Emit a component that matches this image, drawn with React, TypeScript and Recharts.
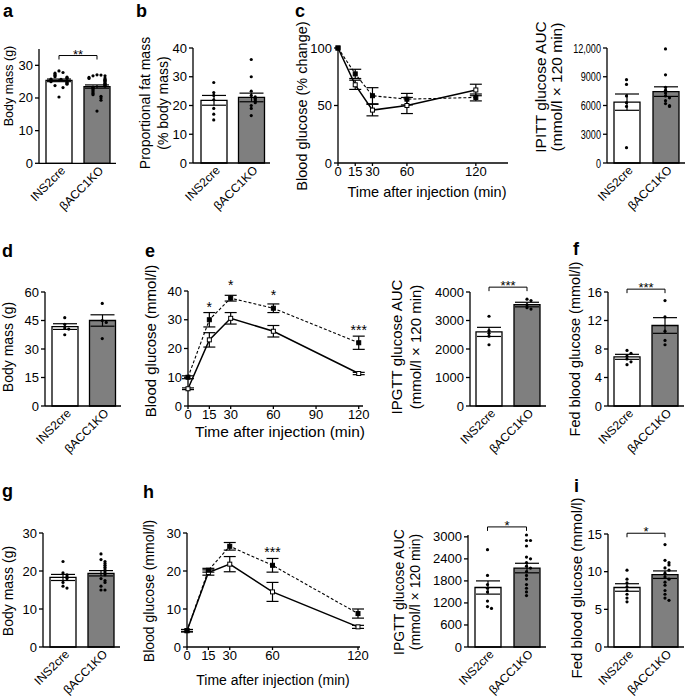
import React from "react";
import {
	Bar,
	Cell,
	ComposedChart,
	ErrorBar,
	LabelList,
	Line,
	ReferenceLine,
	Scatter,
	XAxis,
	YAxis,
} from "recharts";

const FONT = "'Liberation Sans', Arial, Helvetica, sans-serif";
const groups = ["INS2cre", "βACC1KO"];

// a: body mass
const aMean = [25.4, 23.5];
const aSem = [0.4, 0.5];
const aWt = [28.3, 27.8, 27.6, 27.1, 26.9, 26.5, 26.4, 26.2, 26.0, 25.8, 25.7, 25.5, 25.3, 25.0, 24.8, 24.5, 24.2, 23.8, 23.2, 20.3];
const aKo = [27.1, 27.0, 26.8, 26.8, 26.3, 26.1, 26.0, 25.7, 25.4, 25.2, 25.0, 24.6, 24.4, 24.2, 23.9, 23.6, 23.3, 23.0, 22.6, 22.2, 21.8, 21.4, 21.0, 20.5, 20.0, 19.3, 16.0];

// b: proportional fat mass
const bMean = [21.8, 22.8];
const bSem = [1.7, 1.5];
const bWt = [28, 24.5, 23.5, 22, 19, 17, 15];
const bKo = [36, 30, 25, 23.5, 23, 22.5, 22, 21.5, 21, 20, 19, 16.5];

// c: ITT time course (% change)
const cTimes = [0, 15, 30, 60, 120];
const cWt = [100, 68, 46, 50, 63.5];
const cWtErr = [0, 4, 5, 7, 5];
const cKo = [100, 77.5, 58.5, 55.5, 57];
const cKoErr = [0, 4, 7, 5, 3];

// c: IPITT AUC
const cAucMean = [6350, 7450];
const cAucSem = [850, 500];
const cAucWt = [8700, 8200, 7000, 6300, 5900, 1600];
const cAucKo = [11900, 9200, 7900, 7600, 7300, 7000, 6800, 6500, 6200, 6000, 5900];

// d: body mass
const dMean = [41.8, 45];
const dSem = [1.5, 3];
const dWt = [46.5, 43, 41, 40.5, 37.5];
const dKo = [54, 45, 44, 35.5];

// e: IPGTT time course
const eTimes = [0, 15, 30, 60, 120];
const eWt = [6, 23, 30.5, 26, 11.3];
const eWtErr = [0.3, 2.5, 2, 2, 0.4];
const eKo = [10, 30, 37.5, 34, 22];
const eKoErr = [0.5, 2.5, 1, 1.5, 2.3];
const eStars = ["", "*", "*", "*", "***"];

// e: IPGTT AUC
const eAucMean = [2600, 3560];
const eAucSem = [160, 80];
const eAucWt = [3150, 2650, 2550, 2450, 2150];
const eAucKo = [3750, 3700, 3550, 3450, 3400];

// f: fed blood glucose
const fMean = [6.9, 11.3];
const fSem = [0.35, 1.1];
const fWt = [7.8, 7.4, 7.0, 6.6, 6.2, 5.8];
const fKo = [14.8, 12.5, 10.5, 9.2, 8.6];

// g: body mass
const gMean = [18.3, 19.4];
const gSem = [0.8, 0.7];
const gWt = [22.5, 19.5, 19, 18.5, 18, 17, 16, 15.5];
const gKo = [24.5, 23, 22.5, 22, 21.5, 21, 20.5, 20, 19.5, 19, 18, 17.5, 17, 16, 15, 15];

// h: IPGTT time course
const hTimes = [0, 15, 30, 60, 120];
const hWt = [4.3, 19.6, 21.8, 14.5, 5.3];
const hWtErr = [0.3, 0.7, 2, 2.5, 0.4];
const hKo = [4.3, 20.2, 26.5, 21.5, 8.8];
const hKoErr = [0.3, 0.5, 1, 1.8, 1.2];
const hStars = ["", "", "", "***", ""];

// h: IPGTT AUC
const hAucMean = [1620, 2150];
const hAucSem = [180, 130];
const hAucWt = [2650, 1950, 1700, 1600, 1500, 1250, 1100, 1050];
const hAucKo = [3050, 2900, 2900, 2750, 2450, 2400, 2300, 2200, 2150, 2050, 1950, 1850, 1700, 1600, 1500, 1400];

// i: fed blood glucose
const iMean = [7.9, 9.6];
const iSem = [0.5, 0.5];
const iWt = [10.2, 9.0, 8.5, 8.0, 7.5, 7.0, 6.5, 6.0];
const iKo = [13.6, 11.5, 11.2, 10.9, 10.5, 10.2, 9.8, 9.3, 9.0, 8.6, 8.2, 7.5, 7.0, 6.5, 6.2];

const OFFSETS = [0, 4, -4, 8, -8, 2, -6, 6, -2, 10, -10];

// simple beeswarm: dots close in value get pushed sideways
function spread(values: number[], group: string, max: number) {
	const placed: { group: string; value: number; dx: number }[] = [];
	values.forEach((v) => {
		const k = placed.filter((q) => Math.abs(q.value - v) < max * 0.025).length;
		placed.push({ group, value: v, dx: OFFSETS[k % OFFSETS.length] });
	});
	return placed;
}

function CatTick({ x, y, payload }: any) {
	return (
		<text
			transform={`translate(${x + 7},${y + 8}) rotate(-45)`}
			textAnchor="end"
			fontSize={12}
			fontFamily={FONT}
			fill="#000"
		>
			{payload.value}
		</text>
	);
}

// y tick whose glyphs can be squeezed sideways (the AUC panel uses narrow digits)
function YTick({ x, y, payload, squeeze, size, fmt }: any) {
	const label = fmt ? fmt(payload.value) : String(payload.value);
	return (
		<text
			transform={`translate(${x},${y}) scale(${squeeze ?? 1},1)`}
			textAnchor="end"
			dominantBaseline="central"
			fontSize={size}
			fontFamily={FONT}
			fill="#000"
		>
			{label}
		</text>
	);
}

function DotShape(props: any) {
	const { cx, cy, payload } = props;
	if (cx == null || cy == null) return null;
	return <circle cx={cx + (payload?.dx ?? 0)} cy={cy} r={1.6} fill="#000" />;
}

function bracketShape(props: any) {
	const { x1, y1, x2, y2 } = props;
	return (
		<path
			d={`M${x1},${y1 + 4}L${x1},${y1}L${x2},${y2}L${x2},${y2 + 4}`}
			stroke="#000"
			strokeWidth={1}
			fill="none"
		/>
	);
}

interface BarPanelProps {
	axisX: number;
	padL: number;
	band: number;
	topY: number;
	baseY: number;
	max: number;
	ticks: number[];
	mean: number[];
	sem: number[];
	wt: number[];
	ko: number[];
	bracket?: { y: number; stars: string };
	tickFont?: number;
	squeeze?: number;
	fmt?: (v: number) => string;
}

function BarPanel(p: BarPanelProps) {
	const yw = 50;
	const left = p.axisX - yw;
	const top = p.topY - 30;
	const right = p.axisX + p.padL + 2 * p.band;
	const width = right - left + 6;
	const height = p.baseY - top + 70;
	const data = groups.map((g, i) => ({ group: g, mean: p.mean[i], sem: p.sem[i] }));
	const dots = [...spread(p.wt, groups[0], p.max), ...spread(p.ko, groups[1], p.max)];

	return (
		<div style={{ position: "absolute", left, top }}>
			<ComposedChart
				width={width}
				height={height}
				data={data}
				margin={{ top: 30, right: 6, bottom: 0, left: 0 }}
			>
				<XAxis
					dataKey="group"
					type="category"
					allowDuplicatedCategory={false}
					height={70}
					padding={{ left: p.padL, right: 0 }}
					tickLine={false}
					tickSize={0}
					tickMargin={0}
					interval={0}
					tick={<CatTick />}
					axisLine={{ stroke: "#000", strokeWidth: 1.3 }}
				/>
				<YAxis
					width={yw}
					domain={[0, p.max]}
					ticks={p.ticks}
					interval={0}
					tickSize={4}
					tickMargin={2}
					axisLine={{ stroke: "#000", strokeWidth: 1.3 }}
					tickLine={{ stroke: "#000", strokeWidth: 1.3 }}
					tick={<YTick size={p.tickFont ?? 13} squeeze={p.squeeze} fmt={p.fmt} />}
				/>
				<Bar dataKey="mean" barSize={26} stroke="#000" strokeWidth={1.3} isAnimationActive={false}>
					{data.map((d, i) => (
						<Cell key={d.group} fill={i === 0 ? "#ffffff" : "#7f7f7f"} />
					))}
					<ErrorBar dataKey="sem" width={12} stroke="#000" strokeWidth={1.2} direction="y" />
				</Bar>
				<Scatter data={dots} dataKey="value" shape={DotShape} isAnimationActive={false} />
				{p.bracket && (
					<ReferenceLine
						segment={[
							{ x: groups[0], y: p.bracket.y },
							{ x: groups[1], y: p.bracket.y },
						]}
						ifOverflow="visible"
						shape={bracketShape}
						label={{
							value: p.bracket.stars,
							position: "top",
							offset: -3,
							fontSize: 13,
							fill: "#000",
							fontFamily: FONT,
						}}
					/>
				)}
			</ComposedChart>
		</div>
	);
}

function openSquare(props: any) {
	const { cx, cy, index } = props;
	return <rect key={`o${index}`} x={cx - 2} y={cy - 2} width={4} height={4} fill="#fff" stroke="#000" strokeWidth={1} />;
}

function filledSquare(props: any) {
	const { cx, cy, index } = props;
	return <rect key={`f${index}`} x={cx - 2} y={cy - 2} width={4} height={4} fill="#000" stroke="#000" strokeWidth={1} />;
}

function StarLabel(props: any) {
	const { x, y, value } = props;
	if (!value) return null;
	return (
		<text x={x} y={y - 8} textAnchor="middle" fontSize={14} fontFamily={FONT} fill="#000">
			{value}
		</text>
	);
}

interface LinePanelProps {
	axisX: number;
	right: number;
	topY: number;
	baseY: number;
	xMax: number;
	xTicks: number[];
	yMax: number;
	yTicks: number[];
	times: number[];
	wt: number[];
	wtErr: number[];
	ko: number[];
	koErr: number[];
	stars?: string[];
}

function LinePanel(p: LinePanelProps) {
	const yw = 40;
	const left = p.axisX - yw;
	const top = p.topY - 25;
	const width = p.right - left + 10;
	const height = p.baseY - top + 22;
	const data = p.times.map((t, i) => ({
		t,
		wt: p.wt[i],
		wtErr: p.wtErr[i],
		ko: p.ko[i],
		koErr: p.koErr[i],
		star: p.stars ? p.stars[i] : "",
	}));

	return (
		<div style={{ position: "absolute", left, top }}>
			<ComposedChart
				width={width}
				height={height}
				data={data}
				margin={{ top: 25, right: 10, bottom: 0, left: 0 }}
			>
				<XAxis
					dataKey="t"
					type="number"
					domain={[0, p.xMax]}
					ticks={p.xTicks}
					interval={0}
					height={22}
					tickSize={3}
					tickMargin={1}
					axisLine={{ stroke: "#000", strokeWidth: 1.3 }}
					tickLine={{ stroke: "#000", strokeWidth: 1.3 }}
					tick={{ fill: "#000", fontSize: 13, fontFamily: FONT }}
				/>
				<YAxis
					width={yw}
					domain={[0, p.yMax]}
					ticks={p.yTicks}
					interval={0}
					tickSize={4}
					tickMargin={2}
					axisLine={{ stroke: "#000", strokeWidth: 1.3 }}
					tickLine={{ stroke: "#000", strokeWidth: 1.3 }}
					tick={{ fill: "#000", fontSize: 13, fontFamily: FONT }}
				/>
				<Line
					dataKey="wt"
					stroke="#000"
					strokeWidth={1.5}
					dot={openSquare}
					activeDot={false}
					isAnimationActive={false}
				>
					<ErrorBar dataKey="wtErr" width={6} stroke="#000" strokeWidth={1.2} direction="y" />
				</Line>
				<Line
					dataKey="ko"
					stroke="#000"
					strokeWidth={1.1}
					strokeDasharray="3 2"
					dot={filledSquare}
					activeDot={false}
					isAnimationActive={false}
				>
					<ErrorBar dataKey="koErr" width={6} stroke="#000" strokeWidth={1.2} direction="y" />
					<LabelList dataKey="star" content={StarLabel} />
				</Line>
			</ComposedChart>
		</div>
	);
}

const fmtAuc = (v: number) => (v >= 10000 ? v.toLocaleString("en-US") : String(v));

function YTitle({ x, y, size, children }: { x: number; y: number; size: number; children: React.ReactNode }) {
	return (
		<text
			transform={`translate(${x},${y}) rotate(-90)`}
			textAnchor="middle"
			dominantBaseline="central"
			fontSize={size}
			fontFamily={FONT}
			fill="#000"
		>
			{children}
		</text>
	);
}

function Letter({ x, y, children }: { x: number; y: number; children: React.ReactNode }) {
	return (
		<text x={x} y={y} fontSize={18} fontWeight="bold" fontFamily={FONT} fill="#000">
			{children}
		</text>
	);
}

export default function App() {
	return (
		<div
			style={{
				position: "absolute",
				left: 0,
				top: 0,
				width: 685,
				height: 698,
				background: "#fff",
				overflow: "hidden",
			}}
		>
			{/* row 1 */}
			<BarPanel axisX={39} padL={1} band={38} topY={48.7} baseY={163} max={35} ticks={[0, 10, 20, 30]}
				mean={aMean} sem={aSem} wt={aWt} ko={aKo} bracket={{ y: 33, stars: "**" }} />
			<BarPanel axisX={193} padL={2} band={37.5} topY={48} baseY={163} max={40} ticks={[0, 10, 20, 30, 40]}
				mean={bMean} sem={bSem} wt={bWt} ko={bKo} />
			<LinePanel axisX={338} right={508} topY={48} baseY={163} xMax={148} xTicks={[0, 15, 30, 60, 120]}
				yMax={100} yTicks={[0, 50, 100]} times={cTimes} wt={cWt} wtErr={cWtErr} ko={cKo} koErr={cKoErr} />
			<BarPanel axisX={607} padL={0} band={39} topY={48} baseY={163} max={12000} ticks={[0, 3000, 6000, 9000, 12000]}
				mean={cAucMean} sem={cAucSem} wt={cAucWt} ko={cAucKo} fmt={fmtAuc} tickFont={13} squeeze={0.7} />

			{/* row 2 */}
			<BarPanel axisX={45} padL={1} band={37.5} topY={292} baseY={406} max={60} ticks={[0, 15, 30, 45, 60]}
				mean={dMean} sem={dSem} wt={dWt} ko={dKo} />
			<LinePanel axisX={188} right={363} topY={291} baseY={406} xMax={123} xTicks={[0, 15, 30, 60, 90, 120]}
				yMax={40} yTicks={[0, 10, 20, 30, 40]} times={eTimes} wt={eWt} wtErr={eWtErr} ko={eKo} koErr={eKoErr} stars={eStars} />
			<BarPanel axisX={470} padL={0} band={38} topY={292} baseY={406} max={4000} ticks={[0, 1000, 2000, 3000, 4000]}
				mean={eAucMean} sem={eAucSem} wt={eAucWt} ko={eAucKo} bracket={{ y: 4170, stars: "***" }} />
			<BarPanel axisX={608} padL={0} band={38} topY={292} baseY={406} max={16} ticks={[0, 4, 8, 12, 16]}
				mean={fMean} sem={fSem} wt={fWt} ko={fKo} bracket={{ y: 16.4, stars: "***" }} />

			{/* row 3 */}
			<BarPanel axisX={43} padL={1} band={38} topY={533} baseY={647} max={30} ticks={[0, 10, 20, 30]}
				mean={gMean} sem={gSem} wt={gWt} ko={gKo} />
			<LinePanel axisX={187} right={360} topY={533} baseY={647} xMax={121.4} xTicks={[0, 15, 30, 60, 120]}
				yMax={30} yTicks={[0, 10, 20, 30]} times={hTimes} wt={hWt} wtErr={hWtErr} ko={hKo} koErr={hKoErr} stars={hStars} />
			<BarPanel axisX={468} padL={0} band={39} topY={535} baseY={647} max={3000} ticks={[0, 600, 1200, 1800, 2400, 3000]}
				mean={hAucMean} sem={hAucSem} wt={hAucWt} ko={hAucKo} bracket={{ y: 3270, stars: "*" }} />
			<BarPanel axisX={608} padL={0} band={38} topY={534} baseY={647} max={15} ticks={[0, 5, 10, 15]}
				mean={iMean} sem={iSem} wt={iWt} ko={iKo} bracket={{ y: 15.1, stars: "*" }} />

			<svg
				width={685}
				height={698}
				style={{ position: "absolute", left: 0, top: 0, pointerEvents: "none" }}
			>
				<Letter x={3} y={17}>a</Letter>
				<Letter x={136} y={17}>b</Letter>
				<Letter x={295} y={17}>c</Letter>
				<Letter x={2} y={257}>d</Letter>
				<Letter x={145} y={257}>e</Letter>
				<Letter x={573} y={255}>f</Letter>
				<Letter x={2} y={497}>g</Letter>
				<Letter x={143} y={498}>h</Letter>
				<Letter x={574} y={492}>i</Letter>

				<YTitle x={9} y={86} size={12.5}>Body mass (g)</YTitle>
				<YTitle x={145} y={103} size={14}>Proportional fat mass</YTitle>
				<YTitle x={163} y={103} size={14}>(% body mass)</YTitle>
				<YTitle x={302} y={106} size={14.5}>Blood glucose (% change)</YTitle>
				<YTitle x={540} y={87} size={15.5}>IPITT glucose AUC</YTitle>
				<YTitle x={556} y={87} size={15.5}>(mmol/l × 120 min)</YTitle>

				<YTitle x={8} y={347} size={14}>Body mass (g)</YTitle>
				<YTitle x={150} y={341} size={15}>Blood glucose (mmol/l)</YTitle>
				<YTitle x={396} y={347} size={15}>IPGTT glucose AUC</YTitle>
				<YTitle x={415} y={347} size={15}>(mmol/l × 120 min)</YTitle>
				<YTitle x={575} y={349} size={14.5}>Fed blood glucose (mmol/l)</YTitle>

				<YTitle x={8} y={591} size={14}>Body mass (g)</YTitle>
				<YTitle x={149} y={591} size={14}>Blood glucose (mmol/l)</YTitle>
				<YTitle x={399} y={592} size={14}>IPGTT glucose AUC</YTitle>
				<YTitle x={415} y={592} size={14}>(mmol/l × 120 min)</YTitle>
				<YTitle x={576} y={588} size={15}>Fed blood glucose (mmol/l)</YTitle>

				<text x={427} y={197} textAnchor="middle" fontSize={14.5} fontFamily={FONT} fill="#000">
					Time after injection (min)
				</text>
				<text x={280} y={437} textAnchor="middle" fontSize={15.5} fontFamily={FONT} fill="#000">
					Time after injection (min)
				</text>
				<text x={273} y={685} textAnchor="middle" fontSize={14} fontFamily={FONT} fill="#000">
					Time after injection (min)
				</text>
			</svg>
		</div>
	);
}
